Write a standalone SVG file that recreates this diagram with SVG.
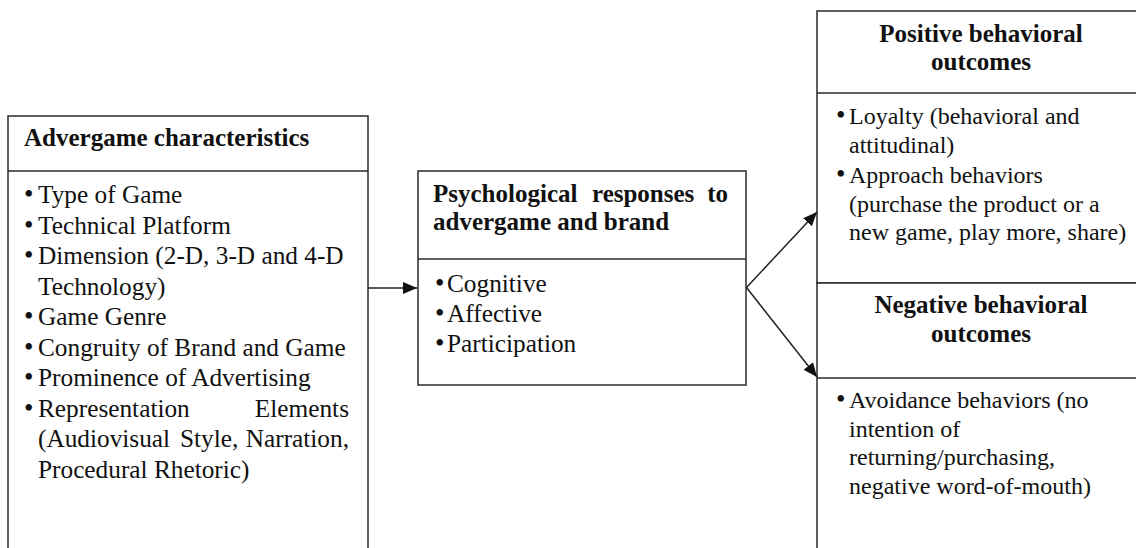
<svg xmlns="http://www.w3.org/2000/svg" width="1136" height="548" viewBox="0 0 1136 548">
  <defs>
    <marker id="arr" viewBox="0 0 14 12" refX="14" refY="6" markerWidth="14" markerHeight="12" markerUnits="userSpaceOnUse" orient="auto">
      <path d="M0,0 L14,6 L0,12 Z" fill="#111"/>
    </marker>
    <style>
      .box { fill: #fff; stroke: #2a2a2a; stroke-width: 1.5; }
      .div { stroke: #2a2a2a; stroke-width: 1.5; fill: none; }
      .h { font-family: "Liberation Serif", "Times New Roman", serif; font-size: 25px; font-weight: bold; fill: #111; }
      .t { font-family: "Liberation Serif", "Times New Roman", serif; font-size: 25.3px; fill: #111; }
      .s { font-family: "Liberation Serif", "Times New Roman", serif; font-size: 24px; fill: #111; }
      .b { font-family: "Liberation Serif", "Times New Roman", serif; font-size: 27px; fill: #111; }
      .conn { stroke: #222; stroke-width: 1.5; fill: none; marker-end: url(#arr); }
    </style>
  </defs>
  <rect width="1136" height="548" fill="#fff"/>

  <g id="advergame-characteristics">
    <rect class="box" x="8" y="116" width="360" height="450"/>
    <line class="div" x1="8" y1="171" x2="368" y2="171"/>
    <text class="h" x="24" y="146">Advergame characteristics</text>
    <text class="b" x="24" y="203">•</text><text class="t" x="38" y="203">Type of Game</text>
    <text class="b" x="24" y="233.5">•</text><text class="t" x="38" y="233.5">Technical Platform</text>
    <text class="b" x="24" y="264">•</text><text class="t" x="38" y="264">Dimension (2-D, 3-D and 4-D</text>
    <text class="t" x="38" y="294.5">Technology)</text>
    <text class="b" x="24" y="325">•</text><text class="t" x="38" y="325">Game Genre</text>
    <text class="b" x="24" y="355.5">•</text><text class="t" x="38" y="355.5">Congruity of Brand and Game</text>
    <text class="b" x="24" y="386">•</text><text class="t" x="38" y="386">Prominence of Advertising</text>
    <text class="b" x="24" y="416.5">•</text><text class="t" y="416.5"><tspan x="38">Representation</tspan><tspan x="349" text-anchor="end">Elements</tspan></text>
    <text class="t" y="447"><tspan x="38">(Audiovisual</tspan><tspan x="180">Style,</tspan><tspan x="349" text-anchor="end">Narration,</tspan></text>
    <text class="t" x="38" y="477.5">Procedural Rhetoric)</text>
  </g>

  <g id="psychological-responses">
    <rect class="box" x="418" y="171" width="328" height="214"/>
    <line class="div" x1="418" y1="259" x2="746" y2="259"/>
    <text class="h" y="201.5"><tspan x="433">Psychological</tspan><tspan x="592">responses</tspan><tspan x="728" text-anchor="end">to</tspan></text>
    <text class="h" x="433" y="230">advergame and brand</text>
    <text class="b" x="435" y="292">•</text><text class="t" x="447" y="292">Cognitive</text>
    <text class="b" x="435" y="322">•</text><text class="t" x="447" y="322">Affective</text>
    <text class="b" x="435" y="352">•</text><text class="t" x="447" y="352">Participation</text>
  </g>

  <g id="positive-outcomes">
    <rect class="box" x="817" y="11" width="340" height="272"/>
    <line class="div" x1="817" y1="93" x2="1150" y2="93"/>
    <text class="h" x="981" y="42" text-anchor="middle">Positive behavioral</text>
    <text class="h" x="981" y="70" text-anchor="middle">outcomes</text>
    <text class="b" x="836" y="124">•</text><text class="s" x="849" y="124">Loyalty (behavioral and</text>
    <text class="s" x="849" y="152.5">attitudinal)</text>
    <text class="b" x="836" y="183">•</text><text class="s" x="849" y="183">Approach behaviors</text>
    <text class="s" x="849" y="211.5">(purchase the product or a</text>
    <text class="s" x="849" y="240">new game, play more, share)</text>
  </g>

  <g id="negative-outcomes">
    <rect class="box" x="817" y="283" width="340" height="290"/>
    <line class="div" x1="817" y1="378" x2="1150" y2="378"/>
    <text class="h" x="981" y="313" text-anchor="middle">Negative behavioral</text>
    <text class="h" x="981" y="342" text-anchor="middle">outcomes</text>
    <text class="b" x="836" y="408">•</text><text class="s" x="849" y="408">Avoidance behaviors (no</text>
    <text class="s" x="849" y="436.5">intention of</text>
    <text class="s" x="849" y="465">returning/purchasing,</text>
    <text class="s" x="849" y="493.5">negative word-of-mouth)</text>
  </g>

  <g id="connectors">
    <line class="conn" x1="368" y1="288" x2="417" y2="288"/>
    <line class="conn" x1="746.5" y1="287.5" x2="817" y2="212"/>
    <line class="conn" x1="746.5" y1="287.5" x2="817" y2="377"/>
  </g>
</svg>
